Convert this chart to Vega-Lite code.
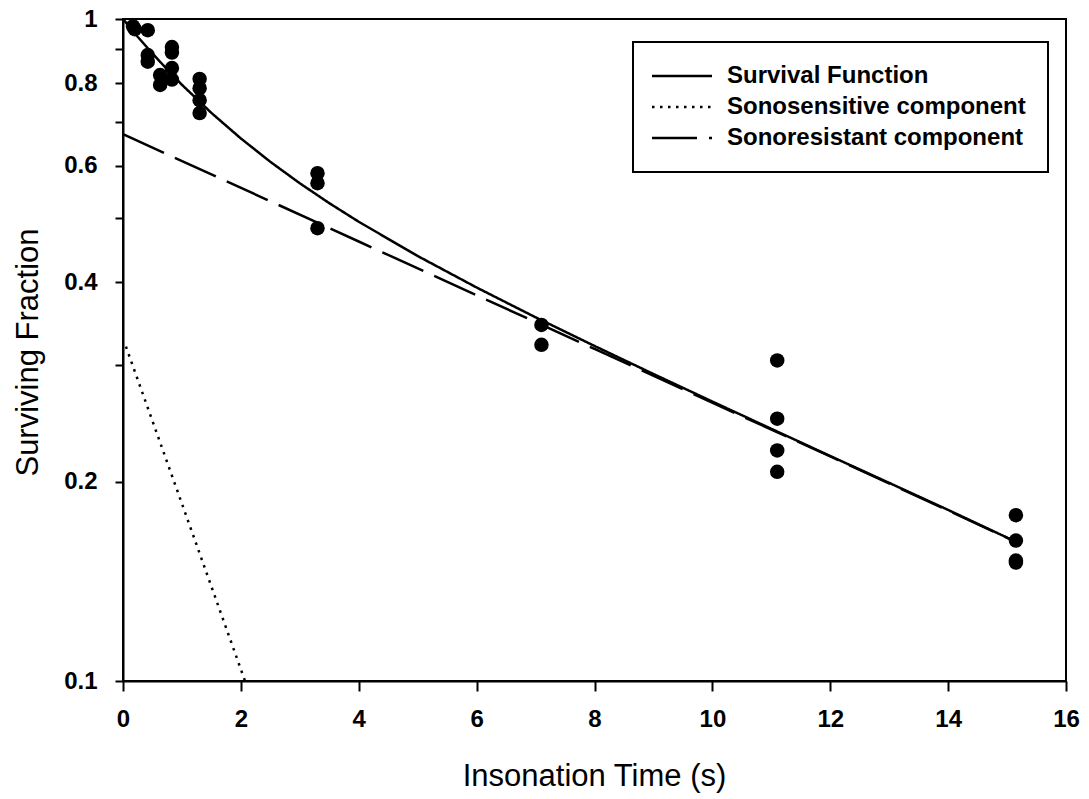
{
  "$schema": "https://vega.github.io/schema/vega-lite/v6.json",
  "width": 943,
  "height": 662,
  "autosize": {"type": "none"},
  "padding": {"left": 123, "top": 19, "right": 23, "bottom": 118},
  "background": "white",
  "config": {
    "view": {"stroke": "black", "strokeWidth": 2},
    "font": "Liberation Sans"
  },
  "datasets": {
    "points": [
      {"t": 0.17, "sf": 0.975},
      {"t": 0.2, "sf": 0.965},
      {"t": 0.42, "sf": 0.962},
      {"t": 0.42, "sf": 0.882},
      {"t": 0.42, "sf": 0.862},
      {"t": 0.63, "sf": 0.823},
      {"t": 0.63, "sf": 0.795},
      {"t": 0.83, "sf": 0.907},
      {"t": 0.83, "sf": 0.89},
      {"t": 0.83, "sf": 0.843},
      {"t": 0.83, "sf": 0.81},
      {"t": 1.3, "sf": 0.812},
      {"t": 1.3, "sf": 0.786},
      {"t": 1.3, "sf": 0.754},
      {"t": 1.3, "sf": 0.721},
      {"t": 3.3, "sf": 0.585},
      {"t": 3.3, "sf": 0.565},
      {"t": 3.3, "sf": 0.483},
      {"t": 7.1, "sf": 0.345},
      {"t": 7.1, "sf": 0.322},
      {"t": 11.1, "sf": 0.305},
      {"t": 11.1, "sf": 0.249},
      {"t": 11.1, "sf": 0.223},
      {"t": 11.1, "sf": 0.207},
      {"t": 15.15, "sf": 0.178},
      {"t": 15.15, "sf": 0.163},
      {"t": 15.15, "sf": 0.152},
      {"t": 15.15, "sf": 0.151}
    ],
    "curves": [
      {"t": 0, "sf": 1.0, "series": "Survival Function"},
      {"t": 0.25, "sf": 0.94, "series": "Survival Function"},
      {"t": 0.5, "sf": 0.887, "series": "Survival Function"},
      {"t": 0.75, "sf": 0.839, "series": "Survival Function"},
      {"t": 1, "sf": 0.7955, "series": "Survival Function"},
      {"t": 1.5, "sf": 0.7213, "series": "Survival Function"},
      {"t": 2, "sf": 0.66, "series": "Survival Function"},
      {"t": 2.5, "sf": 0.6085, "series": "Survival Function"},
      {"t": 3, "sf": 0.5647, "series": "Survival Function"},
      {"t": 3.5, "sf": 0.527, "series": "Survival Function"},
      {"t": 4, "sf": 0.494, "series": "Survival Function"},
      {"t": 5, "sf": 0.4385, "series": "Survival Function"},
      {"t": 6, "sf": 0.393, "series": "Survival Function"},
      {"t": 7, "sf": 0.3543, "series": "Survival Function"},
      {"t": 8, "sf": 0.3207, "series": "Survival Function"},
      {"t": 9, "sf": 0.2909, "series": "Survival Function"},
      {"t": 10, "sf": 0.2643, "series": "Survival Function"},
      {"t": 11, "sf": 0.2404, "series": "Survival Function"},
      {"t": 12, "sf": 0.2187, "series": "Survival Function"},
      {"t": 13, "sf": 0.1992, "series": "Survival Function"},
      {"t": 14, "sf": 0.1813, "series": "Survival Function"},
      {"t": 15.15, "sf": 0.1623, "series": "Survival Function"},
      {"t": 0.05, "sf": 0.32, "series": "Sonosensitive component"},
      {"t": 1, "sf": 0.1853, "series": "Sonosensitive component"},
      {"t": 2.07, "sf": 0.1, "series": "Sonosensitive component"},
      {"t": 0, "sf": 0.67, "series": "Sonoresistant component"},
      {"t": 4, "sf": 0.4612, "series": "Sonoresistant component"},
      {"t": 8, "sf": 0.3174, "series": "Sonoresistant component"},
      {"t": 12, "sf": 0.2184, "series": "Sonoresistant component"},
      {"t": 15.15, "sf": 0.1623, "series": "Sonoresistant component"}
    ]
  },
  "layer": [
    {
      "data": {"name": "curves"},
      "mark": {"type": "line", "color": "black", "strokeWidth": 2.5, "clip": true},
      "encoding": {
        "x": {
          "field": "t", "type": "quantitative",
          "scale": {"domain": [0, 16], "nice": false, "zero": false},
          "axis": {
            "values": [0, 2, 4, 6, 8, 10, 12, 14, 16],
            "format": "d",
            "title": "Insonation Time (s)",
            "grid": false,
            "domainColor": "black", "domainWidth": 2,
            "tickColor": "black", "tickWidth": 2, "tickSize": 10,
            "labelFont": "Liberation Sans", "labelFontWeight": "bold", "labelFontSize": 24,
            "labelColor": "black", "labelPadding": 16, "labelFlush": false,
            "titleFont": "Liberation Sans", "titleFontWeight": "normal", "titleFontSize": 31,
            "titleColor": "black", "titleX": 471, "titleY": 95, "titleBaseline": "middle"
          }
        },
        "y": {
          "field": "sf", "type": "quantitative",
          "scale": {"type": "log", "domain": [0.1, 1], "nice": false},
          "axis": {
            "values": [0.1, 0.2, 0.3, 0.4, 0.5, 0.6, 0.7, 0.8, 0.9, 1],
            "format": ".1~f",
            "labelExpr": "indexof([0.3, 0.5, 0.7, 0.9], datum.value) >= 0 ? '' : datum.label",
            "title": "Surviving Fraction",
            "grid": false,
            "domainColor": "black", "domainWidth": 2,
            "tickColor": "black", "tickWidth": 2, "tickSize": 8,
            "labelFont": "Liberation Sans", "labelFontWeight": "bold", "labelFontSize": 24,
            "labelColor": "black", "labelPadding": 18, "labelFlush": false,
            "titleFont": "Liberation Sans", "titleFontWeight": "normal", "titleFontSize": 31,
            "titleColor": "black", "titleX": -95, "titleY": 333, "titleAngle": -90,
            "titleAlign": "center", "titleBaseline": "middle"
          }
        },
        "detail": {"field": "series"},
        "strokeDash": {
          "field": "series", "type": "nominal",
          "scale": {
            "domain": ["Survival Function", "Sonosensitive component", "Sonoresistant component"],
            "range": [[1, 0], [2.5, 5.5], [45, 12]]
          },
          "legend": {
            "title": null,
            "orient": "none",
            "legendX": 510,
            "legendY": 23,
            "strokeColor": "black",
            "fillColor": "white",
            "padding": 22,
            "symbolType": "M-3,0H3",
            "symbolSize": 400,
            "symbolOffset": 15,
            "symbolStrokeWidth": 2.5,
            "symbolStrokeColor": "black",
            "symbolFillColor": "transparent",
            "labelFont": "Liberation Sans",
            "labelFontWeight": "bold",
            "labelFontSize": 24,
            "labelColor": "black",
            "labelLimit": 500,
            "labelOffset": 33,
            "rowPadding": 7,
            "encode": {
              "legend": {"update": {"strokeWidth": {"value": 2}}},
              "symbols": {
                "update": {
                  "strokeDash": [
                    {"test": "datum.value === 'Sonoresistant component'", "value": [26, 8]},
                    {"test": "datum.value === 'Sonosensitive component'", "value": [2.5, 5.5]},
                    {"value": [1, 0]}
                  ]
                }
              }
            }
          }
        }
      }
    },
    {
      "data": {"name": "points"},
      "mark": {"type": "point", "shape": "circle", "filled": true, "color": "black", "opacity": 1, "size": 210},
      "encoding": {
        "x": {"field": "t", "type": "quantitative"},
        "y": {"field": "sf", "type": "quantitative"}
      }
    }
  ]
}
